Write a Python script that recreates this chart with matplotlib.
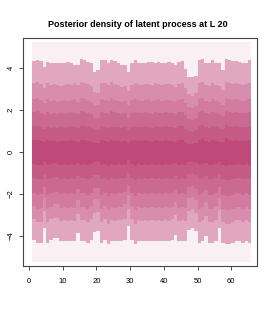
import numpy as np
import matplotlib
matplotlib.use("Agg")
import matplotlib.pyplot as plt

# columns (time points) 1..65, drawn as unit-wide steps
cols = np.arange(1, 66)

# outer extent of the lightest band
y_top = 5.25
y_bot = -5.25

# upper boundaries, outermost to innermost
u6 = [4.35, 4.39, 4.35, 4.08, 4.32, 4.24, 4.27, 4.27, 4.27, 4.24,
      4.30, 4.27, 4.16, 4.16, 4.43, 4.40, 4.30, 4.24, 3.84, 3.90,
      4.40, 4.39, 4.24, 4.40, 4.35, 4.24, 4.16, 4.16, 3.84, 4.24,
      4.40, 4.27, 4.27, 4.27, 4.30, 4.30, 4.27, 4.30, 4.27, 4.27,
      4.30, 4.27, 4.16, 4.32, 4.35, 3.95, 3.60, 3.60, 3.62, 4.40,
      4.43, 4.27, 4.24, 4.40, 4.24, 4.24, 3.92, 4.43, 4.40, 4.35,
      4.35, 4.30, 4.27, 4.27, 4.40]
u5 = [3.30, 3.35, 3.25, 3.05, 3.30, 3.20, 3.25, 3.20, 3.15, 3.20,
      3.25, 3.20, 3.30, 3.20, 3.35, 3.30, 3.25, 3.15, 2.85, 2.80,
      3.30, 3.30, 3.20, 3.35, 3.25, 3.20, 3.10, 3.15, 2.90, 3.20,
      3.30, 3.25, 3.20, 3.25, 3.25, 3.20, 3.30, 3.25, 3.20, 3.25,
      3.25, 3.20, 3.10, 3.25, 3.30, 3.05, 2.75, 2.70, 2.80, 3.30,
      3.35, 3.20, 3.15, 3.30, 3.20, 3.15, 2.95, 3.35, 3.30, 3.25,
      3.30, 3.25, 3.20, 3.25, 3.30]
u4 = [2.55, 2.60, 2.50, 2.35, 2.55, 2.45, 2.50, 2.40, 2.45, 2.50,
      2.45, 2.50, 2.55, 2.40, 2.60, 2.55, 2.45, 2.40, 2.20, 2.25,
      2.55, 2.50, 2.45, 2.60, 2.50, 2.45, 2.40, 2.45, 2.25, 2.50,
      2.55, 2.50, 2.45, 2.50, 2.55, 2.45, 2.50, 2.55, 2.45, 2.50,
      2.50, 2.45, 2.40, 2.50, 2.55, 2.35, 2.15, 2.10, 2.20, 2.55,
      2.60, 2.45, 2.40, 2.55, 2.45, 2.40, 2.25, 2.60, 2.55, 2.50,
      2.55, 2.50, 2.45, 2.50, 2.55]
u3 = [1.90, 1.95, 1.85, 1.75, 1.90, 1.80, 1.85, 1.80, 1.85, 1.80,
      1.85, 1.90, 1.85, 1.80, 1.95, 1.90, 1.85, 1.80, 1.65, 1.65,
      1.90, 1.85, 1.80, 1.95, 1.90, 1.85, 1.80, 1.85, 1.65, 1.85,
      1.90, 1.85, 1.85, 1.90, 1.85, 1.80, 1.90, 1.85, 1.85, 1.90,
      1.85, 1.85, 1.80, 1.90, 1.90, 1.75, 1.60, 1.55, 1.65, 1.90,
      1.95, 1.85, 1.80, 1.90, 1.85, 1.80, 1.70, 1.95, 1.90, 1.85,
      1.90, 1.85, 1.85, 1.85, 1.90]
u2 = [1.25, 1.25, 1.20, 1.10, 1.25, 1.15, 1.20, 1.15, 1.20, 1.15,
      1.20, 1.25, 1.20, 1.15, 1.25, 1.25, 1.20, 1.15, 1.05, 1.05,
      1.25, 1.20, 1.15, 1.25, 1.20, 1.20, 1.15, 1.20, 1.05, 1.20,
      1.25, 1.20, 1.20, 1.25, 1.20, 1.15, 1.25, 1.20, 1.20, 1.25,
      1.20, 1.20, 1.15, 1.25, 1.25, 1.10, 1.00, 0.95, 1.05, 1.25,
      1.30, 1.20, 1.15, 1.25, 1.20, 1.15, 1.10, 1.30, 1.25, 1.20,
      1.25, 1.20, 1.20, 1.20, 1.25]
u1 = [0.60, 0.60, 0.55, 0.50, 0.60, 0.55, 0.55, 0.50, 0.55, 0.55,
      0.55, 0.60, 0.55, 0.50, 0.60, 0.60, 0.55, 0.50, 0.45, 0.45,
      0.60, 0.55, 0.50, 0.60, 0.55, 0.55, 0.50, 0.55, 0.45, 0.55,
      0.60, 0.55, 0.55, 0.60, 0.55, 0.50, 0.60, 0.55, 0.55, 0.60,
      0.55, 0.55, 0.50, 0.60, 0.60, 0.50, 0.40, 0.40, 0.45, 0.60,
      0.65, 0.55, 0.50, 0.60, 0.55, 0.50, 0.50, 0.65, 0.60, 0.55,
      0.60, 0.55, 0.55, 0.55, 0.60]

# lower boundaries, innermost to outermost
l1 = [-0.55, -0.60, -0.60, -0.45, -0.60, -0.55, -0.50, -0.55, -0.60, -0.55,
      -0.60, -0.55, -0.60, -0.50, -0.60, -0.55, -0.60, -0.55, -0.45, -0.45,
      -0.60, -0.55, -0.65, -0.55, -0.60, -0.55, -0.60, -0.55, -0.40, -0.55,
      -0.65, -0.55, -0.60, -0.55, -0.60, -0.55, -0.60, -0.55, -0.60, -0.55,
      -0.60, -0.55, -0.50, -0.60, -0.55, -0.60, -0.45, -0.45, -0.50, -0.60,
      -0.55, -0.50, -0.60, -0.60, -0.55, -0.45, -0.60, -0.65, -0.60, -0.60,
      -0.55, -0.55, -0.60, -0.55, -0.60]
l2 = [-1.25, -1.30, -1.30, -1.05, -1.30, -1.25, -1.20, -1.20, -1.30, -1.25,
      -1.30, -1.25, -1.30, -1.15, -1.25, -1.25, -1.30, -1.25, -1.10, -1.10,
      -1.30, -1.25, -1.35, -1.25, -1.30, -1.25, -1.25, -1.25, -1.00, -1.25,
      -1.35, -1.25, -1.30, -1.25, -1.30, -1.25, -1.30, -1.25, -1.30, -1.25,
      -1.30, -1.25, -1.15, -1.30, -1.25, -1.30, -1.05, -1.00, -1.10, -1.30,
      -1.25, -1.15, -1.30, -1.30, -1.25, -1.05, -1.30, -1.35, -1.35, -1.30,
      -1.25, -1.25, -1.30, -1.25, -1.30]
l3 = [-1.95, -2.05, -2.00, -1.65, -2.05, -1.95, -1.90, -1.90, -2.00, -1.95,
      -2.00, -1.95, -2.00, -1.75, -1.95, -1.95, -2.05, -1.95, -1.70, -1.70,
      -2.05, -1.95, -2.10, -1.95, -2.00, -1.95, -1.95, -1.90, -1.55, -1.95,
      -2.10, -1.95, -2.00, -1.95, -2.00, -1.95, -2.00, -1.95, -2.00, -1.95,
      -2.00, -1.95, -1.80, -2.00, -1.95, -2.00, -1.65, -1.60, -1.75, -2.05,
      -1.95, -1.80, -2.05, -2.05, -1.95, -1.65, -2.05, -2.10, -2.10, -2.05,
      -1.95, -1.95, -2.05, -1.95, -2.05]
l4 = [-2.55, -2.70, -2.65, -2.20, -2.70, -2.60, -2.50, -2.50, -2.65, -2.60,
      -2.65, -2.60, -2.65, -2.30, -2.60, -2.60, -2.70, -2.55, -2.25, -2.25,
      -2.70, -2.55, -2.75, -2.60, -2.65, -2.60, -2.60, -2.50, -2.05, -2.55,
      -2.75, -2.60, -2.65, -2.60, -2.65, -2.60, -2.65, -2.60, -2.65, -2.60,
      -2.65, -2.60, -2.40, -2.65, -2.60, -2.65, -2.20, -2.15, -2.30, -2.70,
      -2.60, -2.40, -2.70, -2.70, -2.60, -2.20, -2.70, -2.75, -2.75, -2.70,
      -2.60, -2.60, -2.70, -2.60, -2.70]
l5 = [-3.20, -3.35, -3.35, -2.80, -3.35, -3.20, -3.15, -3.15, -3.30, -3.25,
      -3.30, -3.25, -3.30, -2.95, -3.25, -3.25, -3.35, -3.20, -2.90, -2.85,
      -3.35, -3.20, -3.45, -3.25, -3.30, -3.25, -3.25, -3.20, -2.70, -3.20,
      -3.45, -3.25, -3.30, -3.25, -3.30, -3.25, -3.30, -3.25, -3.30, -3.25,
      -3.30, -3.20, -3.00, -3.30, -3.25, -3.30, -2.80, -2.70, -2.90, -3.35,
      -3.25, -3.05, -3.35, -3.35, -3.25, -2.75, -3.35, -3.45, -3.45, -3.35,
      -3.25, -3.25, -3.35, -3.25, -3.35]
l6 = [-4.18, -4.33, -4.33, -3.62, -4.33, -4.18, -4.10, -4.10, -4.26, -4.26,
      -4.26, -4.26, -4.26, -3.86, -4.26, -4.26, -4.33, -4.18, -3.80, -3.78,
      -4.33, -4.18, -4.41, -4.26, -4.26, -4.26, -4.26, -4.18, -3.54, -4.18,
      -4.41, -4.26, -4.26, -4.26, -4.26, -4.26, -4.26, -4.26, -4.26, -4.26,
      -4.26, -4.18, -3.94, -4.26, -4.26, -4.26, -3.70, -3.62, -3.78, -4.33,
      -4.26, -4.02, -4.33, -4.33, -4.26, -3.62, -4.33, -4.41, -4.41, -4.33,
      -4.26, -4.26, -4.33, -4.26, -4.33]

band_colors = ["#f9f0f4", "#e0a7bf", "#d98dac", "#d27b9e", "#cb6a91",
               "#c55a85", "#bf4a79"]

plt.rcParams['font.family'] = ['Liberation Sans', 'DejaVu Sans']

fig = plt.figure(figsize=(2.75, 3.14), dpi=100)
ax = fig.add_axes([0.085, 0.154, 0.849, 0.724])

edges = np.append(cols, cols[-1] + 1)
n = len(cols)
uppers = [np.full(n, y_top), u6, u5, u4, u3, u2, u1]
lowers = [np.full(n, y_bot), l6, l5, l4, l3, l2, l1]
for up, lo, c in zip(uppers, lowers, band_colors):
    ax.stairs(up, edges, baseline=lo, fill=True, color=c, linewidth=0)

ax.set_xlim(-1.7, 67.6)
ax.set_ylim(-5.42, 5.43)
ax.set_xticks([0, 10, 20, 30, 40, 50, 60])
ax.set_yticks([-4, -2, 0, 2, 4])
ax.tick_params(axis='both', labelsize=5.5, length=3, width=0.6, color='#333333')
ax.tick_params(axis='x', pad=6)
ax.tick_params(axis='y', pad=3)
for lab in ax.get_yticklabels():
    lab.set_rotation(90)
    lab.set_va('center')
for s in ax.spines.values():
    s.set_linewidth(0.8)
    s.set_color('#444444')

fig.suptitle('Posterior density of latent process at L 20', y=0.935,
             fontsize=6.5, fontweight='bold')

fig.savefig('out.png', dpi=100)
